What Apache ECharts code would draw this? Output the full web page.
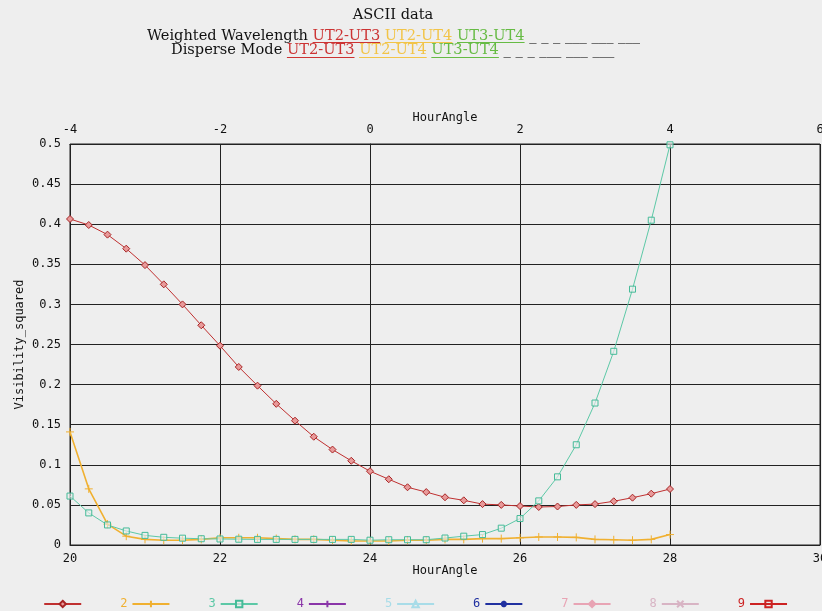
<!DOCTYPE html>
<html><head><meta charset="utf-8">
<script src="https://cdn.jsdelivr.net/npm/echarts@6/dist/echarts.min.js"></script>
<style>html,body{margin:0;padding:0;background:#eeeeee}#c{width:822px;height:611px}</style>
</head><body><div id="c"></div>
<script>
// ---- data ----
const hours = [20,20.25,20.5,20.75,21,21.25,21.5,21.75,22,22.25,22.5,22.75,23,23.25,23.5,23.75,24,24.25,24.5,24.75,25,25.25,25.5,25.75,26,26.25,26.5,26.75,27,27.25,27.5,27.75,28];
const ut23 = [0.4065,0.399,0.387,0.3695,0.349,0.325,0.300,0.274,0.2485,0.222,0.1987,0.176,0.155,0.135,0.119,0.105,0.092,0.082,0.072,0.066,0.0595,0.0557,0.051,0.050,0.0486,0.0474,0.048,0.050,0.051,0.0545,0.059,0.064,0.0698];
const ut24 = [0.141,0.070,0.026,0.011,0.007,0.006,0.006,0.007,0.009,0.009,0.009,0.008,0.007,0.007,0.006,0.005,0.005,0.005,0.006,0.006,0.007,0.007,0.008,0.008,0.009,0.010,0.010,0.0095,0.007,0.0065,0.006,0.007,0.013];
const ut34 = [0.061,0.040,0.025,0.0175,0.012,0.0096,0.0085,0.0078,0.0075,0.0072,0.007,0.007,0.007,0.007,0.007,0.007,0.006,0.0066,0.0066,0.0066,0.0087,0.011,0.013,0.021,0.033,0.055,0.085,0.125,0.177,0.2415,0.319,0.405,0.499];
const legendNames = ['1','2','3','4','5','6','7','8','9'];
const titleText = 'ASCII data';
const line2Label = 'Weighted Wavelength';
const line3Label = 'Disperse Mode';
const baselineNames = ['UT2-UT3','UT2-UT4','UT3-UT4'];
const blanks = '_ _ _ ___ ___ ___';

// ---- styles ----
const colors = ['#c03030','#f0b030','#5cc8a6','#8a35a8','#a8dce8','#2030a0','#e8a4b4','#d8b4c4','#cc2222'];
const titleColors = ['#cc3333','#f2c448','#66bb44'];
const mono = '"DejaVu Sans Mono", monospace';
const serif = '"DejaVu Serif", "Liberation Serif", serif';
const axisTxt = {fontFamily: mono, fontSize: 12, color: '#111'};

const plus = 'path://M5,0L5,10M0,5L10,5';
const cross = 'path://M0,0L10,10M10,0L0,10';
const star = 'path://M5,0L5,10M0,5L10,5M1.5,1.5L8.5,8.5M8.5,1.5L1.5,8.5';

function pairs(ys){ return hours.map((h,i)=>[h, ys[i]]); }

const symbolDefs = [
  {symbol:'diamond', size:7, fill:'#e89a9a', stroke:'#a82424'},
  {symbol:plus, size:8, fill:'none', stroke:colors[1]},
  {symbol:'rect', size:6, fill:'rgba(238,238,238,0.6)', stroke:'#45bb98'},
  {symbol:plus, size:8, fill:'none', stroke:colors[3]},
  {symbol:'triangle', size:7, fill:'none', stroke:colors[4]},
  {symbol:star, size:8, fill:'none', stroke:colors[5]},
  {symbol:'diamond', size:6, fill:colors[6], stroke:colors[6]},
  {symbol:cross, size:7, fill:'none', stroke:colors[7]},
  {symbol:'rect', size:7, fill:'none', stroke:colors[8]}
];
const seriesData = [pairs(ut23), pairs(ut24), pairs(ut34), [], [], [], [], [], []];
const lineWidths = [1, 1.6, 1, 1, 1, 1, 1, 1, 1.5];

const series = legendNames.map((n,i)=>({
  name: n, type: 'line', xAxisIndex: 0, yAxisIndex: 0,
  data: seriesData[i],
  symbol: symbolDefs[i].symbol, symbolSize: symbolDefs[i].size,
  showAllSymbol: true,
  lineStyle: {color: colors[i], width: lineWidths[i]},
  itemStyle: {color: symbolDefs[i].fill, borderColor: symbolDefs[i].stroke, borderWidth: 1},
  emphasis: {disabled: true},
  animation: false
}));

// ---- title graphic built from measured text ----
const meas = document.createElement('canvas').getContext('2d');
const tFont = 14.6;
const fontStr = tFont + 'px ' + serif;
meas.font = fontStr;
function w(t){ return meas.measureText(t).width; }
const unders = [];
const texts = [];
function buildLine(label, y, uy, key, tz){
  const segs = [{t: label + ' ', c:'#111'}];
  baselineNames.forEach((b,i)=>{ segs.push({t:b, c:titleColors[i], u:true}); segs.push({t:' ', c:'#111'}); });
  segs.push({t: blanks, c:'#111'});
  const total = segs.reduce((s,g)=>s+w(g.t),0);
  let x = Math.round(393 - total/2);
  segs.forEach((g,j)=>{
    const gw = w(g.t);
    texts.push({type:'text', id:key+'t'+j, x:x, y:y, z:tz, silent:true, style:{text:g.t, fill:g.c, font: fontStr, textVerticalAlign:'middle'}});
    if (g.u) unders.push({type:'rect', id:key+'u'+j, z:30, silent:true, shape:{x:x, y:uy, width:gw, height:1}, style:{fill:g.c}});
    x += gw;
  });
}
buildLine(line3Label, 50.5, 57, 'b', 5);
buildLine(line2Label, 36.5, 42, 'a', 6);
const graphics = [
  {type:'text', id:'t0', x:393, y:15, z:10, silent:true, style:{text:titleText, fill:'#111', font: fontStr, textAlign:'center', textVerticalAlign:'middle'}}
].concat(texts).concat(unders);

const chart = echarts.init(document.getElementById('c'), null, {renderer:'canvas'});
chart.setOption({
  backgroundColor: '#eeeeee',
  animation: false,
  graphic: {elements: graphics},
  grid: {left: 70, right: 2, top: 144, bottom: 66, outerBoundsMode: 'none', containLabel: false, show: true, borderColor: '#222', borderWidth: 1, backgroundColor: 'transparent'},
  legend: {
    left: 27, top: 593, itemGap: 38, itemWidth: 37, itemHeight: 8, align: 'right',
    textStyle: {fontFamily: mono, fontSize: 12},
    data: legendNames.map((n,i)=>({name:n, textStyle:{color: colors[i]}})),
    formatter: n => n === '1' ? ' ' : n,
    selectedMode: false
  },
  xAxis: [
    {type:'value', position:'bottom', min:20, max:30, interval:2,
     name:'HourAngle', nameLocation:'middle', nameGap:20, nameMoveOverlap:false, nameTextStyle: axisTxt,
     axisLine:{show:true, lineStyle:{color:'#222'}}, axisTick:{show:false},
     axisLabel: Object.assign({margin:8}, axisTxt),
     splitLine:{show:true, lineStyle:{color:'#222', width:1}}},
    {type:'value', position:'top', min:-4, max:6, interval:2,
     name:'HourAngle', nameLocation:'middle', nameGap:20, nameMoveOverlap:false, nameTextStyle: axisTxt,
     axisLine:{show:true, lineStyle:{color:'#222'}}, axisTick:{show:false},
     axisLabel: Object.assign({margin:8}, axisTxt),
     splitLine:{show:false}}
  ],
  yAxis: [{type:'value', min:0, max:0.5, interval:0.05,
    name:'Visibility_squared', nameLocation:'middle', nameGap:44, nameMoveOverlap:false, nameRotate:90, nameTextStyle: axisTxt,
    axisLine:{show:true, lineStyle:{color:'#222'}}, axisTick:{show:false},
    axisLabel: Object.assign({margin:9, formatter: v => String(parseFloat(v.toFixed(3)))}, axisTxt),
    splitLine:{show:true, lineStyle:{color:'#222', width:1}}}],
  series: series
});
</script>
</body></html>
